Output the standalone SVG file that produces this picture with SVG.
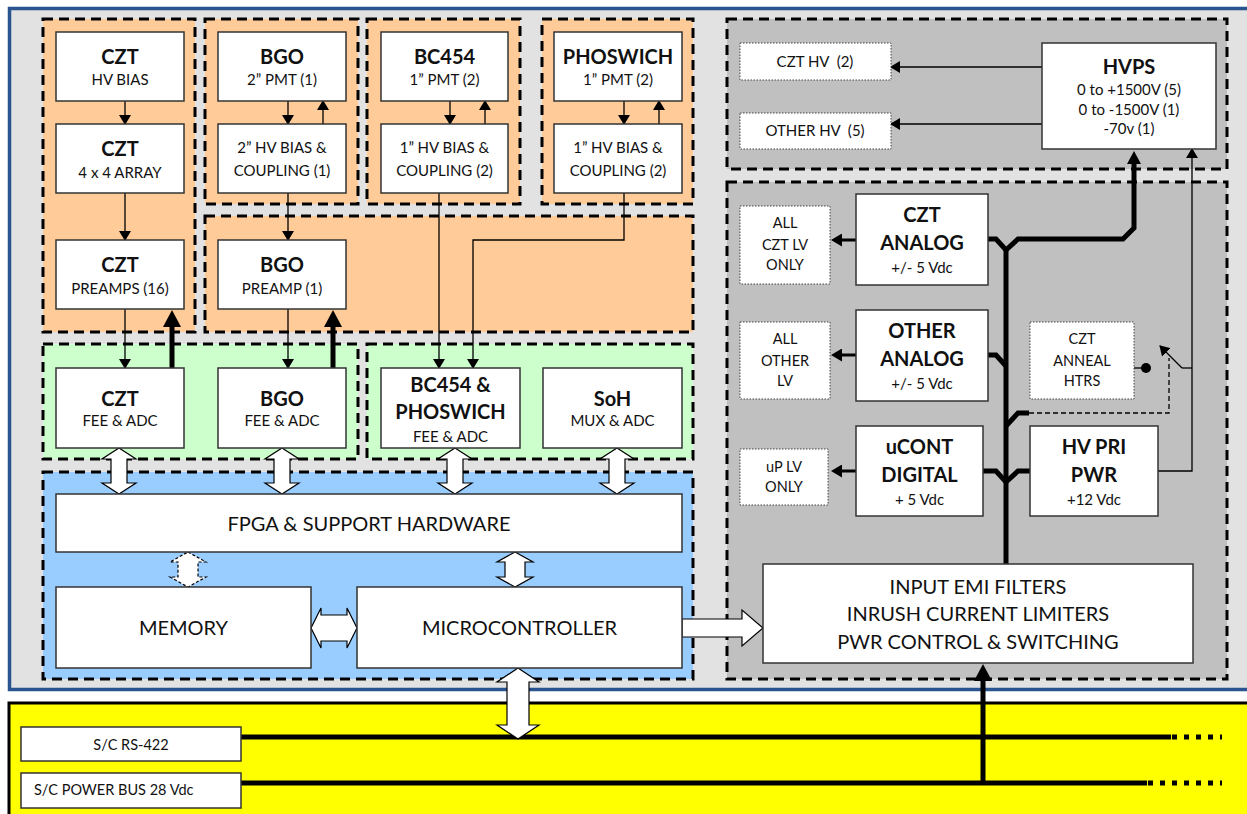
<svg xmlns="http://www.w3.org/2000/svg" width="1247" height="814" viewBox="0 0 1247 814">
<defs>
<style>
.grp{stroke:#000;stroke-width:3;stroke-dasharray:10 6}
.or{fill:#FFCC99}
.gr{fill:#CCFFCC}
.bl{fill:#99CCFF}
.gy{fill:#C0C0C0}
.box{fill:#fff;stroke:#333;stroke-width:1.5}
.dot{fill:#fff;stroke:#444;stroke-width:1;stroke-dasharray:1.5 1.5}
text{font-family:Lato,"Open Sans","Liberation Sans",sans-serif;fill:#111;text-anchor:middle}
.t{font-size:20px;font-weight:bold}
.s{font-size:15px}
.m{font-size:20px}
.x{font-size:14.5px}
.ln{fill:none;stroke:#000;stroke-width:1.3}
.dl{fill:none;stroke:#000;stroke-width:1.3;stroke-dasharray:5 3}
.th{fill:none;stroke:#000;stroke-width:5}
.md{fill:none;stroke:#000;stroke-width:3}
.bus{fill:none;stroke:#000;stroke-width:5}
.dots{fill:none;stroke:#000;stroke-width:5;stroke-dasharray:5 7}
.blk{fill:#fff;stroke:#000;stroke-width:1.2}
.blkd{fill:#fff;stroke:#000;stroke-width:1.2;stroke-dasharray:3 2}
</style>
<marker id="a" markerUnits="userSpaceOnUse" markerWidth="10" markerHeight="12" refX="9" refY="6" orient="auto"><path d="M0,0L10,6L0,12z" fill="#000"/></marker>
<marker id="aT" markerUnits="userSpaceOnUse" markerWidth="17" markerHeight="18" refX="1" refY="9" orient="auto"><path d="M0,0L17,9L0,18z" fill="#000"/></marker>
<marker id="aB" markerUnits="userSpaceOnUse" markerWidth="13" markerHeight="14" refX="1" refY="7" orient="auto"><path d="M0,0L13,7L0,14z" fill="#000"/></marker>
<marker id="aM" markerUnits="userSpaceOnUse" markerWidth="11" markerHeight="13" refX="1" refY="6.5" orient="auto"><path d="M0,0L11,6.5L0,13z" fill="#000"/></marker>
</defs>

<rect x="0" y="0" width="1247" height="814" fill="#fff"/>

<g id="frame">
<rect x="9.5" y="8.5" width="1250" height="681" fill="#E2E2E2" stroke="#2A5490" stroke-width="3.5"/>
<rect x="9" y="703" width="1250" height="130" fill="#FFFF00" stroke="#000" stroke-width="3"/>
</g>

<g id="containers">
<rect class="grp or" x="43" y="19" width="152" height="313"/>
<rect class="grp or" x="205" y="19" width="153" height="185"/>
<rect class="grp or" x="367" y="19" width="153" height="185"/>
<rect class="grp or" x="542" y="19" width="151" height="185"/>
<rect class="grp or" x="205" y="216" width="488" height="116"/>
<rect class="grp gr" x="43" y="344" width="315" height="115"/>
<rect class="grp gr" x="367" y="344" width="326" height="115"/>
<rect class="grp bl" x="43" y="472" width="650" height="207"/>
<rect class="grp gy" x="727" y="19" width="500" height="150"/>
<rect class="grp gy" x="727" y="182" width="500" height="497"/>
</g>

<g id="connectors">
<line class="ln" x1="125" y1="101" x2="125" y2="124" marker-end="url(#a)"/>
<line class="ln" x1="125" y1="193" x2="125" y2="240" marker-end="url(#a)"/>
<line class="ln" x1="125" y1="309" x2="125" y2="368" marker-end="url(#a)"/>
<line class="th" x1="172" y1="368" x2="172" y2="326" marker-end="url(#aT)"/>
<line class="ln" x1="288" y1="101" x2="288" y2="124" marker-end="url(#a)"/>
<line class="ln" x1="323" y1="124" x2="323" y2="101" marker-end="url(#a)"/>
<line class="ln" x1="288" y1="193" x2="288" y2="240" marker-end="url(#a)"/>
<line class="ln" x1="288" y1="309" x2="288" y2="368" marker-end="url(#a)"/>
<line class="th" x1="333" y1="368" x2="333" y2="326" marker-end="url(#aT)"/>
<line class="ln" x1="450" y1="101" x2="450" y2="124" marker-end="url(#a)"/>
<line class="ln" x1="485" y1="124" x2="485" y2="101" marker-end="url(#a)"/>
<line class="ln" x1="624" y1="101" x2="624" y2="124" marker-end="url(#a)"/>
<line class="ln" x1="659" y1="124" x2="659" y2="101" marker-end="url(#a)"/>
<line class="ln" x1="439" y1="193" x2="439" y2="368" marker-end="url(#a)"/>
<polyline class="ln" points="624,193 624,240 473,240 473,368" marker-end="url(#a)"/>

<polygon class="blk" points="119,448 136,459 127,459 127,483 136,483 119,494 102,483 111,483 111,459 102,459"/>
<polygon class="blk" points="282,448 299,459 290,459 290,483 299,483 282,494 265,483 274,483 274,459 265,459"/>
<polygon class="blk" points="455,448 472,459 463,459 463,483 472,483 455,494 438,483 447,483 447,459 438,459"/>
<polygon class="blk" points="617,448 634,459 625,459 625,483 634,483 617,494 600,483 609,483 609,459 600,459"/>
<polygon class="blkd" points="188,552 206,562 198,562 198,577 206,577 188,587 170,577 178,577 178,562 170,562"/>
<polygon class="blk" points="515,552 533,562 525,562 525,577 533,577 515,587 497,577 505,577 505,562 497,562"/>
<polygon class="blk" points="311,628 321,608 321,615 347,615 347,608 357,628 347,648 347,641 321,641 321,648"/>
<polygon class="blk" points="682,619 742,619 742,610 763,628 742,646 742,637 682,637"/>

<line class="ln" x1="1042" y1="67" x2="891" y2="67" marker-end="url(#a)"/>
<line class="ln" x1="1042" y1="124" x2="891" y2="124" marker-end="url(#a)"/>

<line class="md" x1="856" y1="240" x2="841" y2="240" marker-end="url(#aM)"/>
<line class="md" x1="856" y1="355" x2="841" y2="355" marker-end="url(#aM)"/>
<line class="md" x1="856" y1="471" x2="841" y2="471" marker-end="url(#aM)"/>

<line class="th" x1="1006" y1="250" x2="1006" y2="564"/>
<polyline class="th" points="988,239 996,239 1006,250 1018,239 1123,239 1134,228 1134,163" marker-end="url(#aB)"/>
<polyline class="th" points="988,355 996,355 1006,366"/>
<polyline class="th" points="983,471 996,471 1006,482 1018,471 1030,471"/>
<polyline class="th" points="1006,426 1018,413 1029,413"/>
<polyline class="dl" points="1029,413 1169,413 1169,358"/>
<line class="ln" x1="1134" y1="368" x2="1146" y2="368"/>
<circle cx="1146" cy="368" r="5" fill="#000"/>
<line class="ln" x1="1182" y1="368" x2="1160" y2="346" marker-end="url(#a)"/>
<polyline class="ln" points="1182,368 1192,368"/>
<polyline class="ln" points="1158,471 1192,471 1192,149" marker-end="url(#a)"/>

<line class="bus" x1="241" y1="737" x2="1171" y2="737"/>
<line class="dots" x1="1172" y1="737" x2="1222" y2="737"/>
<line class="bus" x1="241" y1="783" x2="1147" y2="783"/>
<line class="dots" x1="1148" y1="783" x2="1222" y2="783"/>
<line class="th" x1="983" y1="783" x2="983" y2="680" marker-end="url(#aT)"/>
<polygon class="blk" points="518,668 539,682 529,682 529,725 539,725 518,739 497,725 507,725 507,682 497,682"/>
</g>

<g id="czt-hv-bias"><rect class="box" x="56" y="32" width="128" height="69"/><text class="t" x="120" y="64">CZT</text><text class="s" x="120" y="85">HV BIAS</text></g>
<g id="czt-array"><rect class="box" x="56" y="124" width="128" height="69"/><text class="t" x="120" y="156">CZT</text><text class="s" x="120" y="178">4 x 4 ARRAY</text></g>
<g id="czt-preamps"><rect class="box" x="56" y="240" width="128" height="69"/><text class="t" x="120" y="272">CZT</text><text class="s" x="120" y="294">PREAMPS (16)</text></g>
<g id="czt-fee"><rect class="box" x="56" y="368" width="128" height="80"/><text class="t" x="120" y="406">CZT</text><text class="s" x="120" y="426">FEE &amp; ADC</text></g>

<g id="bgo-pmt"><rect class="box" x="218" y="32" width="128" height="69"/><text class="t" x="282" y="64">BGO</text><text class="s" x="282" y="85">2” PMT (1)</text></g>
<g id="bgo-bias"><rect class="box" x="218" y="124" width="128" height="69"/><text class="s" x="282" y="153">2” HV BIAS &amp;</text><text class="s" x="282" y="176">COUPLING (1)</text></g>
<g id="bgo-preamp"><rect class="box" x="218" y="240" width="128" height="69"/><text class="t" x="282" y="272">BGO</text><text class="s" x="282" y="294">PREAMP (1)</text></g>
<g id="bgo-fee"><rect class="box" x="218" y="368" width="128" height="80"/><text class="t" x="282" y="406">BGO</text><text class="s" x="282" y="426">FEE &amp; ADC</text></g>

<g id="bc454-pmt"><rect class="box" x="381" y="32" width="127" height="69"/><text class="t" x="444.5" y="64">BC454</text><text class="s" x="444.5" y="85">1” PMT (2)</text></g>
<g id="bc454-bias"><rect class="box" x="381" y="124" width="127" height="69"/><text class="s" x="444.5" y="153">1” HV BIAS &amp;</text><text class="s" x="444.5" y="176">COUPLING (2)</text></g>
<g id="phos-pmt"><rect class="box" x="554" y="32" width="128" height="69"/><text class="t" x="618" y="64">PHOSWICH</text><text class="s" x="618" y="85">1” PMT (2)</text></g>
<g id="phos-bias"><rect class="box" x="554" y="124" width="128" height="69"/><text class="s" x="618" y="153">1” HV BIAS &amp;</text><text class="s" x="618" y="176">COUPLING (2)</text></g>

<g id="bc454-phos-fee"><rect class="box" x="381" y="368" width="139" height="80"/><text class="t" x="450.5" y="392">BC454 &amp;</text><text class="t" x="450.5" y="419">PHOSWICH</text><text class="s" x="450.5" y="442">FEE &amp; ADC</text></g>
<g id="soh"><rect class="box" x="543" y="368" width="139" height="80"/><text class="t" x="612.5" y="406">SoH</text><text class="s" x="612.5" y="426">MUX &amp; ADC</text></g>

<g id="fpga"><rect class="box" x="56" y="494" width="626" height="58"/><text class="m" x="369" y="531">FPGA &amp; SUPPORT HARDWARE</text></g>
<g id="memory"><rect class="box" x="56" y="587" width="255" height="81"/><text class="m" x="183.5" y="635">MEMORY</text></g>
<g id="micro"><rect class="box" x="357" y="587" width="325" height="81"/><text class="m" x="519.5" y="635">MICROCONTROLLER</text></g>

<g id="czt-hv-out"><rect class="dot" x="740" y="43" width="151" height="37"/><text class="s" x="815" y="67" xml:space="preserve">CZT HV  (2)</text></g>
<g id="other-hv-out"><rect class="dot" x="740" y="113" width="151" height="36"/><text class="s" x="815" y="136" xml:space="preserve">OTHER HV  (5)</text></g>
<g id="hvps"><rect class="box" x="1042" y="43" width="174" height="106"/><text class="t" x="1129" y="74">HVPS</text><text class="s" x="1129" y="95">0 to +1500V (5)</text><text class="s" x="1129" y="115">0 to -1500V (1)</text><text class="s" x="1129" y="134">-70v (1)</text></g>

<g id="czt-lv"><rect class="dot" x="740" y="206" width="90" height="78"/><text class="x" x="785" y="228">ALL</text><text class="x" x="785" y="250">CZT LV</text><text class="x" x="785" y="270">ONLY</text></g>
<g id="other-lv"><rect class="dot" x="740" y="322" width="90" height="77"/><text class="x" x="785" y="344">ALL</text><text class="x" x="785" y="366">OTHER</text><text class="x" x="785" y="386">LV</text></g>
<g id="up-lv"><rect class="dot" x="740" y="449" width="88" height="56"/><text class="x" x="784" y="472">uP LV</text><text class="x" x="784" y="492">ONLY</text></g>

<g id="czt-analog"><rect class="box" x="856" y="194" width="132" height="91"/><text class="t" x="922" y="222">CZT</text><text class="t" x="922" y="250">ANALOG</text><text class="s" x="922" y="273">+/- 5 Vdc</text></g>
<g id="other-analog"><rect class="box" x="856" y="310" width="132" height="91"/><text class="t" x="922" y="338">OTHER</text><text class="t" x="922" y="366">ANALOG</text><text class="s" x="922" y="389">+/- 5 Vdc</text></g>
<g id="ucont-digital"><rect class="box" x="856" y="426" width="127" height="90"/><text class="t" x="919.5" y="454">uCONT</text><text class="t" x="919.5" y="482">DIGITAL</text><text class="s" x="919.5" y="505">+ 5 Vdc</text></g>
<g id="hv-pri-pwr"><rect class="box" x="1030" y="426" width="128" height="90"/><text class="t" x="1094" y="454">HV PRI</text><text class="t" x="1094" y="482">PWR</text><text class="s" x="1094" y="505">+12 Vdc</text></g>
<g id="czt-anneal"><rect class="dot" x="1030" y="322" width="104" height="77"/><text class="x" x="1082" y="344">CZT</text><text class="x" x="1082" y="366">ANNEAL</text><text class="x" x="1082" y="386">HTRS</text></g>

<g id="input-emi"><rect class="box" x="763" y="564" width="430" height="99"/><text class="m" x="978" y="594">INPUT EMI FILTERS</text><text class="m" x="978" y="621">INRUSH CURRENT LIMITERS</text><text class="m" x="978" y="649">PWR CONTROL &amp; SWITCHING</text></g>

<g id="sc-rs422"><rect class="box" x="21" y="727" width="220" height="34"/><text class="x" x="131" y="750">S/C RS-422</text></g>
<g id="sc-power"><rect class="box" x="21" y="773" width="220" height="35"/><text class="x" x="34" y="795" style="text-anchor:start">S/C POWER BUS 28 Vdc</text></g>
</svg>
